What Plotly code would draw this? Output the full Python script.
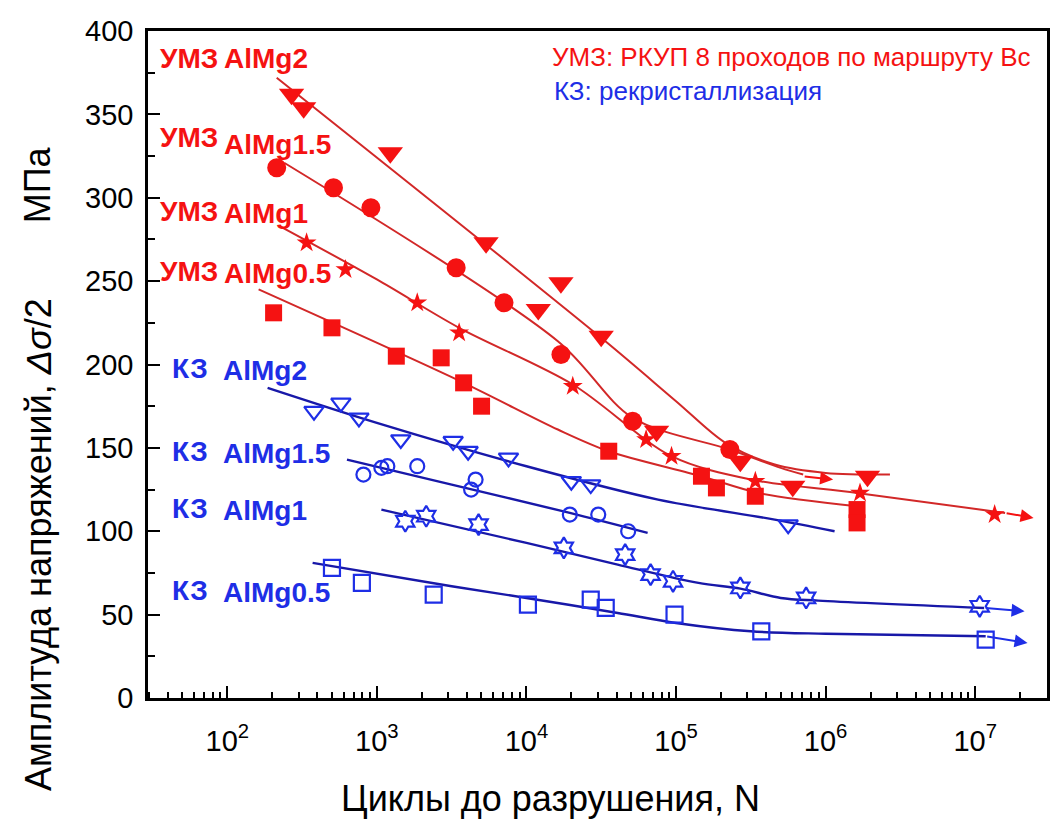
import numpy as np
import plotly.graph_objects as go

# ---------------- data ----------------
# UMZ (red, ECAP 8 passes Bc) - experimental points
umz_mg2_N = [269, 324, 1230, 5370, 12000, 17000, 31600, 74100, 269000, 603000, 1905000]
umz_mg2_S = [362, 354, 327, 273, 233, 249, 217, 160, 142, 127, 133]
umz_mg15_N = [214, 513, 912, 3390, 7080, 17000, 51300, 229000]
umz_mg15_S = [318, 306, 294, 258, 237, 206, 166, 149]
umz_mg1_N = [339, 617, 1862, 3548, 20400, 63100, 93300, 339000, 1698000, 13490000]
umz_mg1_S = [273, 257, 237, 219, 187, 155, 145, 130, 123, 110]
umz_mg05_N = [204, 501, 1349, 2692, 3802, 5012, 35500, 147900, 186200, 338800, 1622000, 1622000]
umz_mg05_S = [231, 222, 205, 204, 189, 175, 148, 133, 126, 121, 113, 105]

# KZ (blue, recrystallized) - experimental points
kz_mg2_N = [380, 575, 759, 1445, 3236, 4074, 7586, 19950, 26900, 562000]
kz_mg2_S = [172, 177, 168, 155, 154, 148, 144, 130, 128, 104]
kz_mg15_N = [813, 1072, 1175, 1862, 4266, 4571, 19500, 30200, 47860]
kz_mg15_S = [134, 138, 139, 139, 125, 131, 110, 110, 100]
kz_mg1_N = [1549, 2138, 4786, 17780, 45710, 67610, 95500, 269000, 741000, 10720000]
kz_mg1_S = [106, 109, 104, 90, 86, 74, 70, 66, 60, 55]
kz_mg05_N = [501, 794, 2399, 10230, 26900, 33880, 97720, 371500, 11750000]
kz_mg05_S = [78, 69, 62, 56, 59, 54, 50, 40, 35]

# fitted curves (as drawn in the picture)
fit_umz_mg2_N = [214, 31600, 100000, 213800, 457100, 1000000, 2692000]
fit_umz_mg2_S = [372, 216, 178, 153, 140, 135, 134]
fit_umz_mg15_N = [240, 16220, 51290, 229100, 501200, 707900]
fit_umz_mg15_S = [321, 214, 168, 149, 138, 134]
fit_umz_mg1_N = [224, 1000, 3548, 20420, 93330, 316200, 1622000, 15850000]
fit_umz_mg1_S = [283, 251, 222, 188, 145, 131, 123, 111]
fit_umz_mg05_N = [162, 3802, 16220, 35480, 147900, 354800, 1622000]
fit_umz_mg05_S = [245, 189, 161, 148, 133, 123, 115]

fit_kz_mg2_N = [186, 1000, 10000, 75860, 457100, 1148000]
fit_kz_mg2_S = [186, 165, 139, 119, 107, 100]
fit_kz_mg15_N = [631, 3162, 19500, 64570]
fit_kz_mg15_S = [143, 128, 111, 99]
fit_kz_mg1_N = [1072, 10000, 40740, 141300, 269200, 501200, 891300, 11480000]
fit_kz_mg1_S = [113, 93, 80, 69, 65.6, 60, 58.4, 54]
fit_kz_mg05_N = [372, 3162, 10000, 40740, 100000, 316200, 1000000, 11750000]
fit_kz_mg05_S = [81, 67, 60, 51, 45, 40, 38.5, 37]

# run-out arrows: (tail N, tail S, head N, head S)
arrows_red = [(707900, 133, 1122000, 131), (15850000, 111, 24550000, 108)]
arrows_blue = [(11480000, 54, 21380000, 52), (11750000, 37, 22390000, 33)]

x_tick_vals = [1e2, 1e3, 1e4, 1e5, 1e6, 1e7]
x_tick_text = ["10<sup>2</sup>", "10<sup>3</sup>", "10<sup>4</sup>", "10<sup>5</sup>",
               "10<sup>6</sup>", "10<sup>7</sup>"]
y_tick_vals = [0, 50, 100, 150, 200, 250, 300, 350, 400]

# ---------------- styling ----------------
RED = "#f51212"
RED_LINE = "#d22828"
BLUE = "#1e2ee6"
BLUE_LINE = "#1818a8"
FONT = "Liberation Sans, Arial, sans-serif"

fig = go.Figure()

def add_fit(N, S, color, width):
    fig.add_trace(go.Scatter(x=N, y=S, mode="lines",
                             line=dict(color=color, width=width, shape="spline", smoothing=0.9),
                             hoverinfo="skip", showlegend=False))

def add_pts(N, S, symbol, size, color, open_=False):
    if open_:
        mk = dict(symbol=symbol, size=size, color=color, line=dict(color=color, width=2.2))
    else:
        mk = dict(symbol=symbol, size=size, color=color, line=dict(width=0))
    fig.add_trace(go.Scatter(x=N, y=S, mode="markers", marker=mk, showlegend=False))

# fits
add_fit(fit_umz_mg2_N, fit_umz_mg2_S, RED_LINE, 2)
add_fit(fit_umz_mg15_N, fit_umz_mg15_S, RED_LINE, 2)
add_fit(fit_umz_mg1_N, fit_umz_mg1_S, RED_LINE, 2)
add_fit(fit_umz_mg05_N, fit_umz_mg05_S, RED_LINE, 2)
add_fit(fit_kz_mg2_N, fit_kz_mg2_S, BLUE_LINE, 2.4)
add_fit(fit_kz_mg15_N, fit_kz_mg15_S, BLUE_LINE, 2.4)
add_fit(fit_kz_mg1_N, fit_kz_mg1_S, BLUE_LINE, 2.4)
add_fit(fit_kz_mg05_N, fit_kz_mg05_S, BLUE_LINE, 2.4)

# points
add_pts(umz_mg2_N, umz_mg2_S, "triangle-down", 22, RED)
add_pts(umz_mg15_N, umz_mg15_S, "circle", 19, RED)
add_pts(umz_mg1_N, umz_mg1_S, "star", 15, RED)
add_pts(umz_mg05_N, umz_mg05_S, "square", 17, RED)
add_pts(kz_mg2_N, kz_mg2_S, "triangle-down-open", 17, BLUE, True)
add_pts(kz_mg15_N, kz_mg15_S, "circle-open", 14, BLUE, True)
add_pts(kz_mg1_N, kz_mg1_S, "hexagram-open", 16, BLUE, True)
add_pts(kz_mg05_N, kz_mg05_S, "square-open", 16, BLUE, True)

annotations = []
for (tn, ts, hn, hs), col in [(a, RED) for a in arrows_red] + [(a, BLUE) for a in arrows_blue]:
    annotations.append(dict(x=np.log10(hn), y=hs, ax=np.log10(tn), ay=ts, xref="x", yref="y",
                            axref="x", ayref="y", showarrow=True, arrowhead=2, arrowsize=1.3,
                            arrowwidth=2, arrowcolor=col, text=""))

L, R, T, B = 148, 1050, 31, 698.5
def px(x, y):
    return (x - L) / (R - L), (B - y) / (B - T)

def label(text, x, y, color, size=28, bold=True, xanchor="center", angle=0, family=FONT):
    xp, yp = px(x, y)
    t = f"<b>{text}</b>" if bold else text
    annotations.append(dict(text=t, x=xp, y=yp, xref="paper", yref="paper", showarrow=False,
                            xanchor=xanchor, yanchor="middle", textangle=angle,
                            font=dict(family=family, size=size, color=color)))

# curve labels
for (ty, ay_, txt) in [(59, 59, "AlMg2"), (138, 145, "AlMg1.5"), (212, 214, "AlMg1"), (272, 274, "AlMg0.5")]:
    label("УМЗ", 158, ty, RED, xanchor="left")
    label(txt, 222, ay_, RED, xanchor="left")
for (ty, ay_, txt) in [(369, 371, "AlMg2"), (452, 454, "AlMg1.5"), (509, 511, "AlMg1"), (591, 593, "AlMg0.5")]:
    label("КЗ", 170, ty, BLUE, xanchor="left")
    label(txt, 221, ay_, BLUE, xanchor="left")

# note text
label("УМЗ: РКУП 8 проходов по маршруту Вс", 551, 57, RED, size=26, bold=False, xanchor="left")
label("КЗ: рекристаллизация", 553, 91, BLUE, size=26, bold=False, xanchor="left")

# axis titles
label("Циклы до разрушения, N", 552, 799, "black", size=36, bold=False)
label("Амплитуда напряжений, <i>Δσ</i>/2", 38, 545, "black", size=36, bold=False, angle=-90)
label("МПа", 38, 185, "black", size=36, bold=False, angle=-90)

minor_x = [m * 10 ** d for d in range(1, 8) for m in range(2, 10)]

fig.update_layout(
    width=1054, height=819,
    margin=dict(l=L, r=1054 - R, t=T, b=819 - B),
    paper_bgcolor="white", plot_bgcolor="white",
    annotations=annotations,
    showlegend=False,
    xaxis=dict(type="log", range=[1.47, 7.48], tickvals=x_tick_vals, ticktext=x_tick_text,
               ticks="inside", ticklen=12, tickwidth=2, tickcolor="black",
               showline=True, linecolor="black", linewidth=2.5, mirror=True,
               showgrid=False, zeroline=False, ticklabelstandoff=15,
               tickfont=dict(family=FONT, size=29, color="black"),
               minor=dict(tickvals=minor_x, ticks="inside", ticklen=6, tickwidth=1.5,
                          tickcolor="black", showgrid=False)),
    yaxis=dict(range=[0, 400], tickvals=y_tick_vals, ticks="inside", ticklen=12, tickwidth=2,
               tickcolor="black", showline=True, linecolor="black", linewidth=2.5, mirror=True,
               showgrid=False, zeroline=False, ticklabelstandoff=6,
               tickfont=dict(family=FONT, size=29, color="black"),
               minor=dict(dtick=25, ticks="inside", ticklen=7, tickwidth=1.5,
                          tickcolor="black", showgrid=False)),
)

fig.write_html("out.html", config={"displayModeBar": False},
               post_script="document.body.style.margin='0';document.body.style.overflow='hidden';")
